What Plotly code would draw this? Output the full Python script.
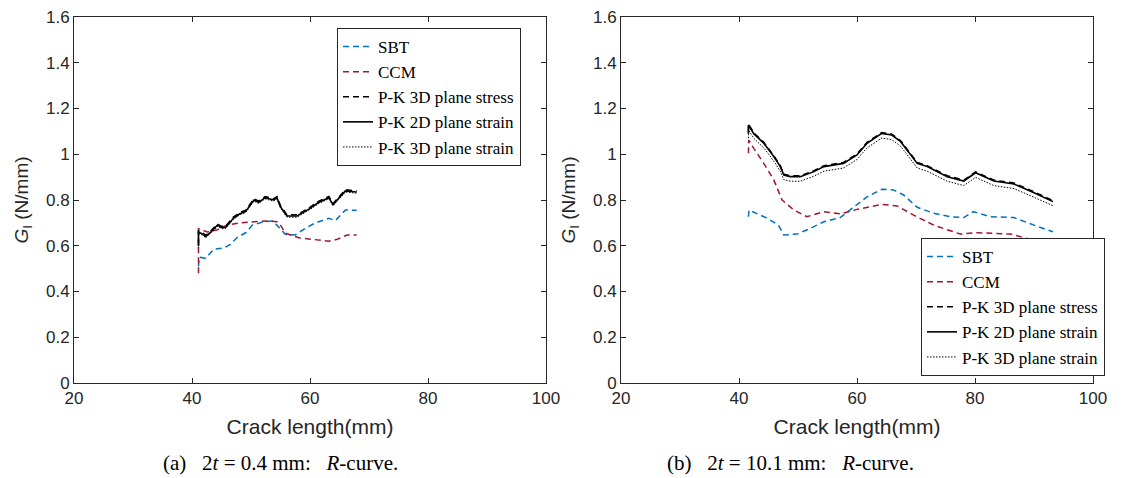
import plotly.graph_objects as go

# ---------------- data: (a) 2t = 0.4 mm ----------------
x_a_pk = [41.1, 41.1, 41.9, 42.3, 43.2, 44.3, 45.0, 45.7, 47.0, 48.1, 49.1, 49.9, 50.5,
          51.3, 52.4, 53.8, 54.4, 55.0, 56.1, 57.8, 59.8, 61.5, 63.2, 63.9, 66.0, 67.9]
a_pk3d_stress = [0.600, 0.665, 0.655, 0.645, 0.665, 0.695, 0.685, 0.685, 0.725, 0.745, 0.755,
                 0.785, 0.805, 0.795, 0.815, 0.805, 0.815, 0.775, 0.735, 0.735, 0.765, 0.795,
                 0.815, 0.785, 0.845, 0.840]
a_pk2d_strain = [0.600, 0.660, 0.650, 0.640, 0.660, 0.690, 0.680, 0.680, 0.720, 0.740, 0.750,
                 0.780, 0.800, 0.790, 0.810, 0.800, 0.810, 0.770, 0.730, 0.730, 0.760, 0.790,
                 0.810, 0.780, 0.840, 0.835]
a_pk3d_strain = [0.590, 0.655, 0.645, 0.635, 0.655, 0.685, 0.675, 0.675, 0.715, 0.735, 0.745,
                 0.775, 0.795, 0.785, 0.805, 0.795, 0.805, 0.765, 0.725, 0.725, 0.755, 0.785,
                 0.805, 0.775, 0.835, 0.830]

x_a_sbt = [41.1, 41.2, 42.3, 43.7, 45.4, 46.5, 47.6, 49.3, 50.2, 52.2, 53.6, 54.4, 55.8,
           57.5, 59.2, 60.9, 63.2, 64.3, 66.0, 67.9]
a_sbt = [0.510, 0.550, 0.545, 0.585, 0.590, 0.606, 0.635, 0.660, 0.690, 0.705, 0.708, 0.690,
         0.650, 0.647, 0.676, 0.700, 0.720, 0.710, 0.756, 0.755]

x_a_ccm = [41.1, 41.1, 42.6, 44.3, 45.9, 48.2, 50.5, 52.7, 54.4, 55.0, 55.8, 58.1, 60.4,
           63.2, 64.6, 66.3, 67.9]
a_ccm = [0.480, 0.675, 0.660, 0.670, 0.690, 0.700, 0.705, 0.708, 0.705, 0.690, 0.655, 0.635,
         0.628, 0.620, 0.628, 0.647, 0.647]

# ---------------- data: (b) 2t = 10.1 mm ----------------
x_b_pk = [41.6, 41.6, 42.5, 44.2, 45.9, 47.0, 47.6, 48.7, 50.4, 52.7, 54.4, 57.7, 60.0,
          61.7, 64.2, 65.9, 67.4, 70.2, 71.9, 75.3, 78.1, 80.1, 83.2, 86.6, 90.0, 93.2]
b_pk3d_stress = [1.095, 1.132, 1.094, 1.052, 0.994, 0.950, 0.913, 0.906, 0.906, 0.928, 0.950,
                 0.964, 1.001, 1.052, 1.095, 1.088, 1.059, 0.964, 0.950, 0.906, 0.887, 0.923,
                 0.887, 0.874, 0.836, 0.797]
b_pk2d_strain = [1.090, 1.128, 1.090, 1.048, 0.990, 0.946, 0.909, 0.902, 0.902, 0.924, 0.946,
                 0.960, 0.997, 1.048, 1.091, 1.084, 1.055, 0.960, 0.946, 0.902, 0.883, 0.919,
                 0.883, 0.870, 0.832, 0.793]
b_pk3d_strain = [1.070, 1.106, 1.070, 1.028, 0.970, 0.926, 0.889, 0.882, 0.882, 0.904, 0.926,
                 0.940, 0.977, 1.028, 1.071, 1.064, 1.035, 0.940, 0.926, 0.882, 0.863, 0.899,
                 0.863, 0.850, 0.812, 0.775]

x_b_sbt = [41.6, 41.7, 44.8, 46.7, 47.6, 49.8, 52.1, 54.4, 57.2, 60.0, 61.7, 64.2, 66.2,
           67.9, 70.2, 73.0, 75.8, 78.1, 79.7, 82.6, 86.6, 90.0, 93.2]
b_sbt = [0.727, 0.756, 0.720, 0.690, 0.647, 0.651, 0.676, 0.705, 0.724, 0.778, 0.814, 0.847,
         0.844, 0.822, 0.768, 0.742, 0.727, 0.723, 0.749, 0.727, 0.723, 0.690, 0.661]

x_b_ccm = [41.6, 41.65, 42.5, 44.2, 45.9, 47.3, 49.3, 51.5, 54.4, 57.2, 60.0, 64.2, 66.8,
           69.6, 73.0, 77.5, 80.4, 86.0, 88.8, 93.2]
b_ccm = [1.004, 1.062, 1.026, 0.960, 0.888, 0.800, 0.756, 0.727, 0.749, 0.739, 0.759, 0.781,
         0.774, 0.734, 0.690, 0.651, 0.657, 0.651, 0.632, 0.603]

names = ["SBT", "CCM", "P-K 3D plane stress", "P-K 2D plane strain", "P-K 3D plane strain"]
x_ticks = [20, 40, 60, 80, 100]
y_ticks = [0, 0.2, 0.4, 0.6, 0.8, 1.0, 1.2, 1.4, 1.6]
NB = "\u00a0"
captions = [f"(a){NB}{NB} 2<i>t</i> = 0.4 mm:{NB}{NB} <i>R</i>-curve.",
            f"(b){NB}{NB} 2<i>t</i> = 10.1 mm:{NB}{NB} <i>R</i>-curve."]

BLUE = "#0072BD"
RED = "#A2142F"
styles = [
    dict(color=BLUE, width=1.5, dash="6px,4px"),
    dict(color=RED, width=1.5, dash="6px,4px"),
    dict(color="black", width=1.5, dash="6px,4px"),
    dict(color="black", width=1.6, dash="solid"),
    dict(color="black", width=1.0, dash="1.5px,1.5px"),
]

fig = go.Figure()

panels = [
    ("x", "y", "legend", [(x_a_sbt, a_sbt), (x_a_ccm, a_ccm), (x_a_pk, a_pk3d_stress),
                          (x_a_pk, a_pk2d_strain), (x_a_pk, a_pk3d_strain)]),
    ("x2", "y2", "legend2", [(x_b_sbt, b_sbt), (x_b_ccm, b_ccm), (x_b_pk, b_pk3d_stress),
                             (x_b_pk, b_pk2d_strain), (x_b_pk, b_pk3d_strain)]),
]
for xa, ya, leg, series in panels:
    for (xs, ys), nm, st in zip(series, names, styles):
        fig.add_trace(go.Scatter(x=xs, y=ys, mode="lines", name=nm, line=st,
                                 xaxis=xa, yaxis=ya, legend=leg))

SANS = "Liberation Sans, Arial, sans-serif"
SERIF = "Liberation Serif, Times New Roman, serif"
axis_font = dict(family=SANS, size=17, color="#262626")
common_x = dict(range=[20, 100], tickvals=x_ticks, showline=True, linecolor="#262626",
                linewidth=1, mirror="ticks", ticks="inside", ticklen=5, tickcolor="#262626",
                showgrid=False, zeroline=False, tickfont=axis_font, automargin=False,
                ticklabeloverflow="allow",
                title=dict(text="Crack length(mm)",
                           font=dict(family=SANS, size=21, color="#262626"), standoff=11))
common_y = dict(range=[0, 1.6], tickvals=y_ticks, showline=True, linecolor="#262626",
                linewidth=1, mirror="ticks", ticks="inside", ticklen=5, tickcolor="#262626",
                showgrid=False, zeroline=False, tickfont=axis_font, automargin=False,
                ticklabeloverflow="allow",
                title=dict(text="<i>G</i><sub>I</sub> (N/mm)",
                           font=dict(family=SANS, size=19, color="#262626"), standoff=12))

# the page body adds an 8 px margin, so the figure is 8 px smaller and shifted
OFF = 8
W, H = 1139 - OFF, 478 - OFF
L, T = 74 - OFF, 17 - OFF
R, B = 46, 95
pw = W - L - R
ph = H - T - B
d1 = (546 - 74) / pw
d2 = (621 - 74) / pw

legend_style = dict(font=dict(family=SERIF, size=17, color="black"),
                    bgcolor="white", bordercolor="#262626", borderwidth=1,
                    itemwidth=30, tracegroupgap=0)

fig.update_layout(
    width=W, height=H, margin=dict(l=L, r=R, t=T, b=B, autoexpand=False),
    paper_bgcolor="white", plot_bgcolor="white",
    xaxis=dict(domain=[0, d1], anchor="y", **common_x),
    yaxis=dict(domain=[0, 1], anchor="x", **common_y),
    xaxis2=dict(domain=[d2, 1], anchor="y2", **common_x),
    yaxis2=dict(domain=[0, 1], anchor="x2", **common_y),
    legend=dict(x=(337 - 74) / pw, y=(383 - 28) / ph, xanchor="left", yanchor="top",
                **legend_style),
    legend2=dict(x=(1105 - 74) / pw, y=(383 - 376) / ph, xanchor="right", yanchor="bottom",
                 **legend_style),
)

for cx, txt in zip([280, 790], captions):
    fig.add_annotation(text=txt, x=(cx - 74) / pw, y=(383 - 463) / ph,
                       xref="paper", yref="paper", showarrow=False, xanchor="center",
                       yanchor="middle",
                       font=dict(family=SERIF, size=21, color="black"))

fig.write_html("out.html")
